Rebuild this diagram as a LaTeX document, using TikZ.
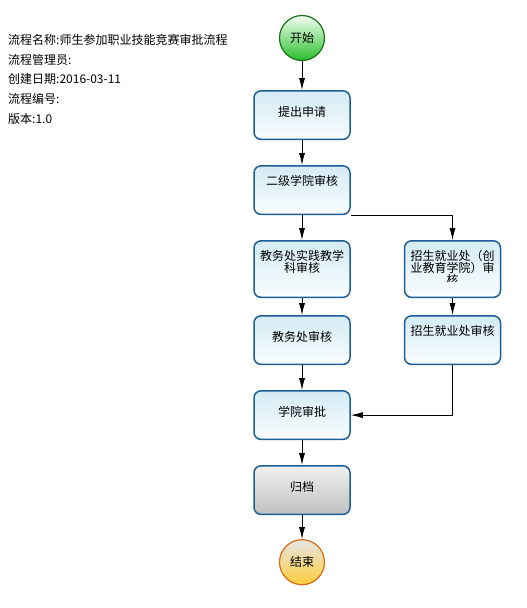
\documentclass[tikz,border=0pt]{standalone}
\usepackage{fontspec}
\setmainfont{Noto Sans CJK SC}
\usepackage{xcolor}
\usepackage{tikz}
\usetikzlibrary{positioning,arrows.meta}
\definecolor{flowblue}{RGB}{30,94,150}
\definecolor{flowtop}{RGB}{212,235,244}
\definecolor{flowbot}{RGB}{250,253,254}
\definecolor{startline}{RGB}{24,112,24}
\definecolor{startfill}{RGB}{40,190,40}
\definecolor{endline}{RGB}{214,104,22}
\definecolor{endfill}{RGB}{255,206,60}

\begin{document}
\begin{tikzpicture}[
  x=1pt, y=-1pt,
  node distance=25pt,
  font=\fontsize{12}{12}\selectfont,
  task/.style={draw=flowblue, line width=1.5pt, rounded corners=7pt,
    top color=flowtop, bottom color=flowbot, text width=89pt, align=center,
    minimum width=96pt, inner xsep=3.5pt, inner ysep=0pt,
    text height=26pt, text depth=22.5pt},
  toptext/.style={text height=20pt, text depth=28.5pt},
  tall/.style={text depth=36.5pt},
  plain/.style={top color=gray!12, bottom color=gray!50},
  event/.style={circle, line width=1.2pt, minimum size=45pt, inner sep=0pt},
  arrow/.style={-{Latex[length=12pt,width=6pt]}, line width=0.8pt}
]
\useasboundingbox (0,0) rectangle (527,608);

% process header
\node[anchor=north west, align=left, inner sep=0pt,
  font=\fontsize{12}{19.8}\selectfont] (info) at (8,34)
  {流程名称:师生参加职业技能竞赛审批流程\\流程管理员:\\创建日期:2016-03-11\\流程编号:\\版本:1.0};

% main column
\node[event, draw=startline, top color=green!4, bottom color=startfill] (start) at (302,38) {开始};
\node[task, below=29pt of start] (apply) {提出申请};
\node[task, toptext, below=of apply] (college) {二级学院审核};
\node[task, toptext, tall, below=of college] (practice) {教务处实践教学\\科审核};
\node[task, below=17pt of practice] (academic) {教务处审核};
\node[task, below=of academic] (approve) {学院审批};
\node[task, plain, below=of approve] (archive) {归档};
\node[event, draw=endline, top color=gray!20, bottom color=endfill, below=24pt of archive] (finish) {结束};

% side column
\node[task, toptext, tall, right=53pt of practice] (admit) {};
\begin{scope}
  \clip (admit.north west) rectangle ([yshift=-41pt]admit.north east);
  \node[anchor=north, text width=89pt, align=center, inner sep=0pt,
    text height=20pt, text depth=0pt] (admittext) at (admit.north)
    {招生就业处（创\\业教育学院）审\\核};
\end{scope}
\node[task, toptext, below=17pt of admit] (career) {招生就业处审核};

\draw[arrow] (start) -- (apply);
\draw[arrow] (apply) -- (college);
\draw[arrow] (college) -- (practice);
\draw[arrow] (college.south east) -| (admit);
\draw[arrow] (practice) -- (academic);
\draw[arrow] (admit) -- (career);
\draw[arrow] (academic) -- (approve);
\draw[arrow] (career) |- (approve);
\draw[arrow] (approve) -- (archive);
\draw[arrow] (archive) -- (finish);
\end{tikzpicture}
\end{document}
